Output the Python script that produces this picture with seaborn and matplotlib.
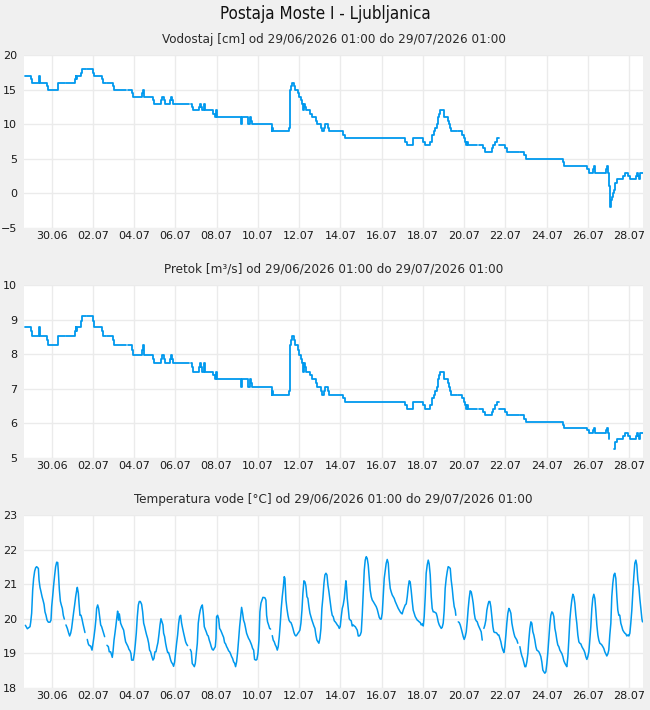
import numpy as np
import pandas as pd
import matplotlib
matplotlib.use("Agg")
import matplotlib.pyplot as plt
import matplotlib.dates as mdates
import seaborn as sns

nan = np.nan

# ---------------- data ----------------
START = pd.Timestamp("2026-06-28 16:00")   # origin of the hour offsets below
STATION = "Postaja Moste I - Ljubljanica"
PERIOD = "od 29/06/2026 01:00 do 29/07/2026 01:00"
TITLES = ["Vodostaj [cm]", "Pretok [m³/s]", "Temperatura vode [°C]"]

# water level / discharge: hourly values where they change (step series)
LEVEL_H = [1, 8, 9, 17, 18, 19, 27, 28, 39, 40, 48, 49, 59, 60, 61, 62, 66, 67, 72, 73,
           80, 81, 91, 92, 95, 97, 103, 105, 119, 121, 126, 127, 137, 138, 139, 150, 151, 159, 160, 163,
           164, 170, 171, 172, 173, 192, 194, 195, 197, 204, 205, 206, 207, 209, 210, 220, 222, 223, 224, 252,
           253, 254, 260, 261, 263, 264, 265, 288, 289, 290, 308, 309, 311, 312, 314, 315, 319, 320, 322, 323,
           324, 325, 326, 327, 328, 333, 335, 340, 341, 346, 347, 349, 350, 354, 355, 371, 373, 443, 445, 452,
           453, 464, 466, 472, 474, 475, 477, 478, 480, 481, 482, 483, 484, 488, 489, 493, 494, 496, 497, 504,
           505, 510, 512, 513, 514, 515, 516, 527, 529, 534, 536, 544, 546, 548, 550, 552, 553, 560, 562, 576,
           577, 582, 584, 627, 628, 655, 657, 662, 663, 664, 677, 678, 679, 680, 681, 682, 683, 684, 685, 686,
           687, 688, 690, 697, 699, 703, 705, 712, 713, 714, 715, 717, 720]
LEVEL_CM = [17, 16.5, 16, 16.5, 17, 16, 15.5, 15, 15.5, 16, nan, 16, 16.5, 17, 16.5, 17, 17.5, 18, nan, 18,
            17.5, 17, 16.5, 16, nan, 16, 15.5, 15, nan, 15, 14.5, 14, 14.5, 15, 14, 13.5, 13, 13.5, 14, 13.5,
            13, 13.5, 14, 13.5, 13, nan, 13, 12.5, 12, 12.5, 13, 12.5, 12, 13, 12, 11.5, 11, 12, 11, 10,
            10.5, 11, 10.5, 10, 11, 10.5, 10, 9, 9.5, 9, 9.5, 15, 15.5, 16, 15.5, 15, 14.5, 14, 13.5, 13,
            12.5, 12, 13, 12.5, 12, 11.5, 11, 10.5, 10, 9.5, 9, 9.5, 10, 9.5, 9, 8.5, 8, 7.5, 7, 7.5,
            8, 7.5, 7, 7.5, 8, 8.5, 9, 9.5, 10, 10.5, 11, 11.5, 12, 11.5, 11, 10.5, 10, 9.5, 9, nan,
            9, 8.5, 8, 7.5, 7, 7.5, 7, nan, 7, 6.5, 6, 6.5, 7, 7.5, 8, nan, 7, 6.5, 6, nan,
            6, 5.5, 5, 4.5, 4, 3.5, 3, 3.5, 4, 3, 3.5, 4, 3, 2, 1, -2, -1, -0.5, 0, 0.5,
            1, 1.5, 2, 2.5, 3, 2.5, 2, 2.5, 3, 2.5, 2, 3, 3]
FLOW_M3S = [8.80, 8.67, 8.54, 8.67, 8.80, 8.54, 8.41, 8.27, 8.41, 8.54, nan, 8.54, 8.67, 8.80, 8.67, 8.80, 8.96, 9.12, nan, 9.12,
            8.96, 8.80, 8.67, 8.54, nan, 8.54, 8.41, 8.27, nan, 8.27, 8.13, 7.99, 8.13, 8.27, 7.99, 7.87, 7.76, 7.87, 7.99, 7.87,
            7.76, 7.87, 7.99, 7.87, 7.76, nan, 7.76, 7.63, 7.50, 7.63, 7.76, 7.63, 7.50, 7.76, 7.50, 7.40, 7.29, 7.50, 7.29, 7.06,
            7.18, 7.29, 7.18, 7.06, 7.29, 7.18, 7.06, 6.83, 6.94, 6.83, 6.94, 8.27, 8.41, 8.54, 8.41, 8.27, 8.13, 7.99, 7.87, 7.76,
            7.63, 7.50, 7.76, 7.63, 7.50, 7.40, 7.29, 7.18, 7.06, 6.94, 6.83, 6.94, 7.06, 6.94, 6.83, 6.72, 6.62, 6.52, 6.42, 6.52,
            6.62, 6.52, 6.42, 6.52, 6.62, 6.72, 6.83, 6.94, 7.06, 7.18, 7.29, 7.40, 7.50, 7.40, 7.29, 7.18, 7.06, 6.94, 6.83, nan,
            6.83, 6.72, 6.62, 6.52, 6.42, 6.52, 6.42, nan, 6.42, 6.32, 6.23, 6.32, 6.42, 6.52, 6.62, nan, 6.42, 6.32, 6.23, nan,
            6.23, 6.13, 6.04, 5.95, 5.86, 5.79, 5.72, 5.79, 5.86, 5.72, 5.79, 5.86, 5.72, 5.55, nan, nan, nan, nan, nan, 5.26,
            5.35, 5.45, 5.55, 5.63, 5.72, 5.63, 5.55, 5.63, 5.72, 5.63, 5.55, 5.72, 5.72]

# water temperature
TEMP_H = [1.6, 3.9, 7.0, 7.8, 8.9, 10.1, 11.2, 12.4, 13.6, 14.7,
          16.7, 17.5, 18.6, 19.8, 21.0, 22.1, 23.3, 24.4, 25.6, 26.8,
          28.3, 30.2, 31.4, 32.2, 33.3, 34.5, 35.7, 36.8, 38.0, 39.2,
          39.9, 41.1, 42.3, 43.4, 44.6, 45.7, 46.9, 47.5, 48.8, 50.4,
          52.0, 53.1, 54.3, 55.4, 56.6, 57.8, 58.9, 60.1, 61.2, 62.0,
          63.2, 64.0, 65.1, 66.3, 67.4, 68.6, 69.8, 70.9, 72.0, 73.6,
          74.8, 76.0, 77.5, 79.1, 80.2, 81.4, 82.6, 83.7, 84.5, 85.7,
          86.8, 88.0, 89.2, 90.3, 91.5, 92.6, 93.8, 95.0, 96.5, 98.1,
          99.2, 100.8, 102.7, 103.5, 104.7, 105.8, 107.0, 108.1, 108.9, 110.1,
          110.9, 112.4, 114.0, 115.9, 117.1, 118.2, 119.4, 121.0, 122.1, 123.3,
          124.4, 125.2, 127.1, 128.3, 129.5, 130.6, 131.8, 133.0, 134.1, 135.3,
          136.8, 138.0, 139.2, 140.3, 141.5, 142.6, 143.8, 145.0, 146.1, 147.3,
          148.5, 150.0, 151.2, 152.3, 153.5, 154.7, 155.8, 157.0, 158.2, 159.3,
          160.5, 161.6, 162.4, 163.6, 164.7, 165.9, 167.1, 168.2, 169.4, 170.6,
          171.7, 172.9, 174.0, 175.2, 176.4, 177.5, 178.7, 179.9, 181.0, 182.2,
          183.3, 184.5, 185.7, 186.8, 188.0, 189.2, 190.3, 191.5, 193.4, 194.6,
          195.7, 196.9, 198.1, 199.2, 200.4, 201.6, 202.7, 203.9, 205.0, 206.2,
          207.4, 208.5, 209.7, 210.9, 212.0, 213.2, 214.3, 215.5, 216.7, 217.8,
          219.0, 220.2, 221.3, 222.5, 223.3, 224.0, 225.2, 226.4, 227.5, 228.7,
          229.9, 231.0, 232.2, 233.3, 234.5, 235.7, 236.8, 238.0, 239.2, 240.3,
          241.5, 242.6, 243.8, 245.0, 246.1, 247.3, 248.5, 249.6, 250.8, 252.0,
          253.1, 254.3, 255.4, 256.6, 257.8, 258.9, 260.1, 261.2, 262.4, 263.6,
          264.7, 265.9, 267.1, 268.2, 269.8, 270.9, 272.1, 273.3, 274.4, 275.6,
          276.8, 277.9, 280.2, 281.4, 282.2, 283.3, 284.5, 285.7, 286.8, 287.5,
          288.8, 289.9, 291.1, 292.3, 293.4, 294.6, 295.7, 296.9, 298.1, 299.2,
          300.4, 301.6, 302.7, 303.5, 304.7, 305.8, 307.0, 308.2, 309.3, 310.5,
          311.6, 312.8, 314.0, 315.1, 316.3, 317.4, 318.6, 319.8, 320.9, 322.1,
          323.3, 324.4, 325.6, 326.8, 327.9, 329.1, 330.2, 331.4, 332.6, 333.7,
          334.9, 336.1, 337.2, 338.4, 339.5, 340.7, 341.9, 343.0, 344.2, 345.4,
          346.5, 347.7, 348.9, 350.0, 351.2, 352.4, 353.5, 354.7, 355.8,
          357.4, 358.5, 359.7, 360.9, 362.0, 363.2, 364.4, 365.5, 366.7, 367.8,
          369.0, 370.2, 371.3, 372.5, 373.7, 374.4, 375.2, 376.0, 377.1, 378.3,
          379.5, 380.6, 381.8, 383.0, 384.1, 385.3, 386.5, 387.6, 388.8, 389.9,
          391.1, 392.3, 393.4, 394.6, 395.8, 396.9, 398.1, 399.2, 400.4, 401.6,
          402.7, 403.9, 405.1, 406.2, 407.4, 408.5, 409.7, 410.9, 412.0, 413.2,
          414.4, 415.5, 416.7, 417.8, 419.0, 420.2, 421.3, 422.5, 423.7, 424.8,
          426.0, 427.1, 428.3, 429.5, 430.6, 431.8, 433.0, 434.1, 435.3, 436.4,
          437.6, 438.8, 439.9, 441.1, 442.3, 443.4, 444.6, 445.8, 446.9, 448.1,
          449.2, 450.4, 451.6, 452.7, 453.9, 455.1, 456.2, 457.4, 458.5, 459.7,
          460.9, 462.0, 463.2, 464.4, 465.5, 466.7, 467.8, 469.0, 470.2, 471.3,
          472.5, 473.7, 474.8, 476.0, 477.1, 478.3, 479.5, 480.6, 481.8, 483.0,
          484.1, 485.3, 486.4, 487.6, 488.8, 489.9, 491.1, 492.3, 493.4, 494.6,
          495.8, 496.9, 498.1, 499.2, 500.4, 501.6, 502.3, 503.0, 505.1, 506.2,
          507.4, 508.5, 509.7, 510.9, 512.0, 513.2, 514.4, 515.5, 516.7, 517.8,
          519.0, 520.2, 521.3, 522.5, 523.7, 524.8, 526.0, 527.2, 528.3, 529.5,
          530.6, 531.8, 533.0, 533.8, 534.9, 536.1, 537.2, 538.4, 539.6, 540.7,
          541.9, 543.0, 544.2, 545.4, 546.5, 547.7, 548.9, 550.0, 551.2, 552.3,
          553.5, 554.7, 555.8, 557.0, 558.2, 559.3, 560.5, 561.6, 562.8, 564.0,
          565.1, 566.3, 567.5, 568.6, 569.8, 570.9, 572.1, 573.3, 574.4, 575.5,
          576.8, 577.9, 579.1, 580.2, 581.4, 582.6, 583.7, 584.9, 586.1, 587.2,
          588.4, 589.6, 590.7, 591.9, 593.0, 594.2, 595.4, 596.5, 597.7, 598.9,
          600.0, 601.2, 602.3, 603.5, 604.7, 605.8, 607.0, 608.2, 609.3, 610.5,
          611.6, 612.8, 614.0, 615.1, 616.3, 617.5, 618.6, 619.8, 620.9, 622.1,
          623.3, 624.4, 625.6, 626.8, 627.9, 629.1, 630.2, 631.4, 632.6, 633.7,
          634.9, 636.1, 637.2, 638.4, 639.6, 640.7, 641.9, 643.0, 644.2, 645.4,
          646.5, 647.7, 648.9, 650.0, 651.2, 652.3, 653.5, 654.7, 655.8, 657.0,
          658.2, 659.3, 660.5, 661.6, 662.8, 664.0, 665.1, 666.3, 667.5, 668.6,
          669.8, 670.9, 672.1, 673.3, 674.4, 675.6, 676.8, 677.9, 679.1, 680.2,
          681.4, 682.6, 683.7, 684.9, 686.1, 687.2, 688.4, 689.6, 690.7, 691.9,
          693.0, 694.2, 695.4, 696.5, 697.7, 698.9, 700.0, 701.2, 702.4, 703.5,
          704.7, 705.8, 707.0, 708.2, 709.3, 710.5, 711.7, 712.8, 714.0, 715.2,
          716.3, 717.5, 718.7, 719.4]
TEMP_C = [19.81, 19.71, 19.77, 19.90, 20.16, 20.83, 21.17, 21.38, 21.48, 21.51,
          21.46, 21.12, 20.91, 20.78, 20.64, 20.54, 20.42, 20.20, 20.10, 19.96,
          19.90, 19.90, 19.96, 20.35, 20.64, 20.98, 21.27, 21.51, 21.64, 21.63,
          21.39, 20.85, 20.51, 20.40, 20.30, 20.10, 19.99, nan, 19.82, 19.72,
          19.58, 19.50, 19.58, 19.72, 19.96, 20.20, 20.40, 20.64, 20.81, 20.91,
          20.74, 20.45, 20.10, 20.10, 20.00, 19.85, 19.72, 19.60, nan, 19.40,
          19.27, 19.22, 19.21, 19.09, 19.27, 19.48, 19.72, 20.00, 20.30, 20.40,
          20.30, 20.06, 19.82, 19.77, 19.67, 19.58, 19.48, nan, 19.23, 19.19,
          19.04, 19.04, 18.88, 19.04, 19.38, 19.58, 19.82, 20.06, 20.22, 19.96,
          20.14, 19.87, 19.77, 19.67, 19.48, 19.33, 19.27, 19.19, 19.11, 19.07,
          18.99, 18.80, 18.80, 18.98, 19.27, 19.58, 20.06, 20.40, 20.50, 20.50,
          20.42, 20.20, 19.87, 19.77, 19.64, 19.53, 19.43, 19.29, 19.09, 19.04,
          18.92, 18.80, 18.85, 19.04, 19.04, 19.19, 19.31, 19.55, 19.82, 20.00,
          19.91, 19.82, 19.58, 19.48, 19.29, 19.14, 19.02, 19.02, 18.92, 18.80,
          18.73, 18.69, 18.62, 18.75, 19.04, 19.29, 19.53, 19.87, 20.06, 20.10,
          19.87, 19.72, 19.58, 19.46, 19.33, 19.26, 19.22, nan, 19.11, 19.04,
          18.70, 18.66, 18.61, 18.70, 18.99, 19.29, 19.87, 20.10, 20.25, 20.35,
          20.40, 20.16, 19.77, 19.69, 19.62, 19.53, 19.50, 19.38, 19.29, 19.19,
          19.11, 19.09, 19.14, 19.19, 19.43, 20.06, 20.10, 20.00, 19.72, 19.67,
          19.60, 19.53, 19.46, 19.31, 19.27, 19.19, 19.14, 19.07, 19.04, 18.98,
          18.90, 18.85, 18.75, 18.71, 18.61, 18.75, 19.04, 19.38, 19.77, 20.06,
          20.33, 20.16, 19.96, 19.87, 19.72, 19.58, 19.50, 19.43, 19.38, 19.31,
          19.24, 19.14, 19.09, 18.82, 18.80, 18.82, 18.99, 19.38, 20.20, 20.45,
          20.54, 20.62, 20.61, 20.54, 20.10, 19.91, 19.82, 19.72, 19.70, nan,
          19.51, 19.38, 19.33, 19.24, 19.19, 19.09, 19.19, 19.48, 19.87, 20.30,
          20.64, 20.91, 21.22, 21.17, 20.54, 20.30, 20.10, 19.96, 19.91, 19.89,
          19.82, 19.72, 19.60, 19.53, 19.50, 19.53, 19.58, 19.62, 19.67, 19.87,
          20.25, 20.74, 21.10, 21.07, 20.95, 20.64, 20.59, 20.35, 20.16, 20.06,
          19.96, 19.87, 19.79, 19.72, 19.53, 19.38, 19.33, 19.29, 19.43, 19.72,
          20.30, 20.62, 21.03, 21.27, 21.32, 21.27, 20.98, 20.78, 20.56,
          20.25, 20.10, 20.06, 19.94, 19.91, 19.87, 19.82, 19.79, 19.72, 19.77,
          20.06, 20.30, 20.40, 20.59, 20.93, 21.10, 20.91, 20.59, 20.30, 20.00,
          19.96, 19.94, 19.79, 19.82, 19.79, 19.77, 19.72, 19.67, 19.50, 19.50,
          19.53, 19.62, 20.10, 20.74, 21.41, 21.70, 21.80, 21.75, 21.56, 21.17,
          20.83, 20.64, 20.54, 20.50, 20.45, 20.40, 20.35, 20.27, 20.16, 20.04,
          19.99, 19.99, 20.16, 20.64, 21.17, 21.41, 21.61, 21.72, 21.61, 21.17,
          20.88, 20.78, 20.69, 20.64, 20.59, 20.50, 20.43, 20.37, 20.30, 20.25,
          20.20, 20.16, 20.14, 20.25, 20.33, 20.40, 20.43, 20.64, 20.91, 21.10,
          21.07, 20.81, 20.50, 20.25, 20.16, 20.06, 20.01, 19.96, 19.94, 19.91,
          19.89, 19.82, 19.85, 19.79, 20.06, 20.64, 21.32, 21.56, 21.70, 21.59,
          21.27, 20.64, 20.30, 20.20, 20.20, 20.18, 20.16, 20.06, 19.91, 19.82,
          19.77, 19.72, 19.75, 19.87, 20.25, 20.88, 21.17, 21.37, 21.51, 21.49,
          21.46, 21.12, 20.88, 20.59, 20.35, 20.25, 20.10, nan, 19.91, 19.89,
          19.82, 19.72, 19.60, 19.48, 19.40, 19.48, 19.62, 19.91, 20.30, 20.59,
          20.81, 20.78, 20.64, 20.45, 20.16, 20.00, 19.94, 19.91, 19.82, 19.75,
          19.69, 19.62, 19.38, nan, 19.72, 19.82, 19.96, 20.25, 20.40, 20.50,
          20.50, 20.35, 20.06, 19.77, 19.62, 19.60, 19.60, 19.58, 19.53, 19.53,
          19.43, 19.33, 19.19, 19.09, 19.02, 19.19, 19.53, 19.87, 20.16, 20.30,
          20.25, 20.16, 19.87, 19.72, 19.58, 19.48, 19.43, 19.38, 19.29, nan,
          19.19, 19.04, 18.92, 18.85, 18.73, 18.61, 18.61, 18.75, 18.99, 19.38,
          19.72, 19.91, 19.87, 19.62, 19.53, 19.38, 19.19, 19.09, 19.07, 19.04,
          18.98, 18.90, 18.75, 18.51, 18.46, 18.42, 18.46, 18.71, 19.02, 19.43,
          19.82, 20.10, 20.20, 20.17, 20.06, 19.72, 19.58, 19.38, 19.24, 19.19,
          19.09, 19.04, 18.99, 18.90, 18.78, 18.71, 18.66, 18.61, 18.90, 19.38,
          19.96, 20.30, 20.54, 20.71, 20.64, 20.45, 20.10, 19.87, 19.53, 19.33,
          19.29, 19.27, 19.19, 19.14, 19.09, 19.02, 18.90, 18.82, 18.90, 19.04,
          19.40, 19.77, 20.30, 20.59, 20.71, 20.59, 20.25, 19.82, 19.53, 19.38,
          19.29, 19.27, 19.24, 19.19, 19.14, 19.04, 18.98, 18.92, 18.98, 19.09,
          19.53, 19.87, 20.64, 21.03, 21.27, 21.32, 21.17, 20.64, 20.25, 20.10,
          20.10, 19.87, 19.77, 19.67, 19.62, 19.58, 19.56, 19.50, 19.53, 19.50,
          19.58, 19.87, 20.25, 20.78, 21.22, 21.61, 21.70, 21.56, 21.12, 20.93,
          20.59, 20.30, 20.00, 19.91]

Y_LIMITS = [(-5, 20), (5, 10), (18, 23)]
Y_STEP = [5, 1, 1]
TICK_DAYS = pd.date_range("2026-06-30", "2026-07-28", freq="2D")

assert len(LEVEL_H) == len(LEVEL_CM) == len(FLOW_M3S)
assert len(TEMP_H) == len(TEMP_C)


# ---------------- frames ----------------
def frame(hours, values, step):
    """Split the series into runs at missing values (seaborn drops NaN rows,
    so each run becomes its own unit); a step run holds its last value
    until the timestamp of the missing reading."""
    df = pd.DataFrame({"time": START + pd.to_timedelta(hours, unit="h"),
                       "value": values})
    missing = df["value"].isna()
    df["seg"] = missing.cumsum()
    if step:
        ends = df[missing].copy()
        ends["value"] = df["value"].shift(1)[missing]
        ends["seg"] = ends["seg"] - 1
        df = pd.concat([df, ends])
    return df.dropna().sort_values(["seg", "time"]).reset_index(drop=True)


df_level = frame(LEVEL_H, LEVEL_CM, True)
df_flow = frame(LEVEL_H, FLOW_M3S, True)
df_temp = frame(TEMP_H, TEMP_C, False)

# ---------------- style ----------------
sns.set_theme(style="white")
plt.rcParams["font.family"] = ["DejaVu Sans"]
LINE = "#0099ee"
GRID = "#ebebeb"
BG = "#f0f0f0"
TXT = "#1a1a1a"

W, H = 650, 710
fig = plt.figure(figsize=(W / 100, H / 100), dpi=100, facecolor=BG)

tops = [55.3, 285.3, 515.3]
ph = 172.4
left, pw = 24, 619

panels = [(df_level, "steps-post", 1.3), (df_flow, "steps-post", 1.3), (df_temp, "default", 1.1)]
x0 = START
x1 = START + pd.Timedelta(hours=720)

for i, (df, ds, lw) in enumerate(panels):
    ax = fig.add_axes([left / W, 1 - (tops[i] + ph) / H, pw / W, ph / H])
    ax.set_facecolor("white")
    sns.lineplot(data=df, x="time", y="value", units="seg", ax=ax, color=LINE,
                 linewidth=lw, drawstyle=ds, estimator=None, sort=False, legend=False)
    ax.set_xlim(x0, x1)
    lo, hi = Y_LIMITS[i]
    ax.set_ylim(lo, hi)
    ax.set_yticks(np.arange(lo, hi + 0.01, Y_STEP[i]))
    ax.set_xticks(TICK_DAYS)
    ax.xaxis.set_major_formatter(mdates.DateFormatter("%d.%m"))
    ax.grid(True, color=GRID, linewidth=1)
    ax.set_axisbelow(True)
    for s in ax.spines.values():
        s.set_visible(False)
    ax.tick_params(axis="both", length=0, labelsize=8, labelcolor=TXT)
    ax.tick_params(axis="y", pad=5)
    ax.tick_params(axis="x", pad=2.5)
    ax.set_xlabel("")
    ax.set_ylabel("")
    ax.set_title(f"{TITLES[i]} {PERIOD}", fontsize=9.6, color="#2a2a2a", pad=9,
                 fontweight="light", fontstretch="condensed")

fig.text(0.5, 1 - 14 / H, STATION, ha="center", va="center", fontsize=12.2,
         color="#111111", fontstretch="condensed")

fig.savefig("out.png", dpi=100, facecolor=BG)
